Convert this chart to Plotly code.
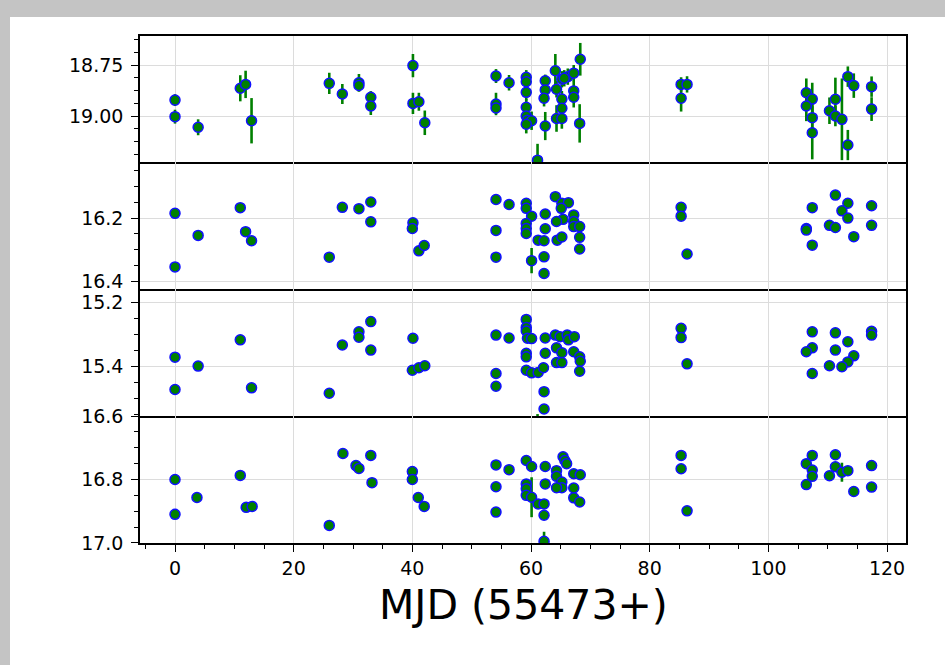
import plotly.graph_objects as go
from plotly.subplots import make_subplots

# ---------------- data ----------------
# Panel 1 (top)
x1 = [0, 0, 3.9, 11, 11.9, 12.9, 26, 28.2, 31, 31, 33, 33, 40.1, 40.1, 41.1, 42.1,
      54.1, 54.1, 54.1, 56.3, 59.2, 59.2, 59.2, 59.2, 59.2, 59.4, 60.1, 59.2, 61.1,
      62.4, 62.4, 62.2, 62.4, 64.1, 64.3, 64.3, 65.2, 65.2, 65.2, 65.2, 66.2, 67.2,
      65.6, 67.2, 67.2, 68.3, 68.2, 85.3, 86.3, 85.3, 106.4, 107.4, 106.4, 107.4,
      107.4, 110.3, 111.3, 111.3, 112.4, 113.4, 114.4, 113.4, 117.4, 117.4]
m1 = [18.922, 19.003, 19.055, 18.864, 18.845, 19.023, 18.84, 18.892, 18.837, 18.85,
      18.908, 18.951, 18.753, 18.938, 18.93, 19.033, 18.804, 18.941, 18.96, 18.837,
      18.81, 18.832, 18.884, 18.957, 19.0, 19.02, 19.023, 19.04, 19.216, 18.827,
      18.872, 18.913, 19.049, 18.778, 18.869, 19.012, 18.82, 18.917, 18.962, 19.012,
      18.807, 18.79, 18.815, 18.877, 18.908, 18.722, 19.036, 18.845, 18.845, 18.913,
      18.886, 18.917, 18.951, 19.008, 19.082, 18.974, 18.918, 19.0, 19.016, 18.807,
      18.851, 19.142, 18.856, 18.966]
e1 = [0.029, 0.034, 0.039, 0.064, 0.067, 0.111, 0.052, 0.049, 0.043, 0.03, 0.03,
      0.044, 0.057, 0.052, 0.044, 0.06, 0.034, 0.055, 0.03, 0.038, 0.035, 0.03, 0.04,
      0.04, 0.04, 0.04, 0.045, 0.045, 0.08, 0.03, 0.04, 0.04, 0.069, 0.082, 0.04,
      0.065, 0.04, 0.04, 0.04, 0.05, 0.04, 0.04, 0.04, 0.05, 0.05, 0.08, 0.094, 0.035,
      0.04, 0.065, 0.07, 0.08, 0.074, 0.08, 0.13, 0.065, 0.106, 0.05, 0.2, 0.05, 0.06,
      0.074, 0.05, 0.058]

# Panel 2
x2 = [0, 0, 3.9, 11, 11.9, 12.9, 26, 28.2, 31, 33, 33, 40.1, 40, 41.1, 42,
      54.1, 54.1, 54.1, 56.3, 59.2, 59.2, 60.1, 59.2, 59.2, 59.2, 61.2, 62.2, 60.1,
      62.2, 62.2, 62.4, 62.4, 64.1, 65.2, 66.3, 65.1, 65.4, 64.3, 64.4, 65.2, 67.2,
      67.2, 67.2, 68.2, 68.2, 68.2, 85.3, 85.3, 86.3, 107.4, 106.4, 106.4, 107.4,
      111.3, 113.4, 112.4, 113.4, 110.3, 111.3, 114.4, 117.4, 117.4]
m2 = [16.185, 16.355, 16.255, 16.167, 16.243, 16.272, 16.324, 16.166, 16.17, 16.149,
      16.212, 16.215, 16.233, 16.304, 16.287, 16.141, 16.239, 16.324, 16.157, 16.153,
      16.169, 16.194, 16.217, 16.233, 16.249, 16.27, 16.272, 16.335, 16.323, 16.376,
      16.187, 16.234, 16.132, 16.153, 16.151, 16.169, 16.204, 16.211, 16.27, 16.26,
      16.19, 16.211, 16.227, 16.227, 16.261, 16.298, 16.166, 16.194, 16.314, 16.167,
      16.233, 16.238, 16.286, 16.127, 16.153, 16.177, 16.2, 16.223, 16.23, 16.259,
      16.161, 16.223]
e2 = [0.008] * len(m2)
e2[27] = 0.04

# Panel 3
x3 = [0, 0, 3.9, 11, 12.9, 26, 28.2, 31, 31, 33, 33, 40.1, 40, 41.1, 42.1,
      54.1, 54.1, 54.1, 56.3, 59.2, 59.2, 59.2, 59.4, 60.1, 59.2, 59.2, 59.2, 60.1,
      61.2, 62.1, 62.2, 62.2, 62.4, 62.4, 64.1, 64.3, 65.2, 64.3, 65.2, 64.9, 66.1,
      66.3, 67.3, 67.2, 68.2, 68.3, 68.2, 85.3, 85.3, 86.3, 107.4, 107.4, 106.4, 107.4,
      111.3, 111.3, 110.3, 113.4, 114.4, 113.4, 112.4, 117.4, 117.4, 61.1]
m3 = [15.372, 15.473, 15.4, 15.318, 15.468, 15.485, 15.334, 15.293, 15.31, 15.261,
      15.35, 15.313, 15.413, 15.405, 15.399, 15.303, 15.423, 15.463, 15.312, 15.254,
      15.279, 15.29, 15.313, 15.314, 15.36, 15.371, 15.413, 15.421, 15.42, 15.405,
      15.48, 15.534, 15.312, 15.36, 15.303, 15.343, 15.358, 15.389, 15.389, 15.308,
      15.303, 15.318, 15.308, 15.355, 15.371, 15.385, 15.416, 15.282, 15.311, 15.393,
      15.293, 15.343, 15.355, 15.423, 15.296, 15.35, 15.399, 15.324, 15.368, 15.387,
      15.402, 15.291, 15.303, 15.6]
e3 = [0.008] * len(m3)
e3[-1] = 0.05

# Panel 4 (bottom)
x4 = [0, 0, 3.7, 11, 12, 13, 26, 28.3, 30.5, 31, 33, 33.2, 40, 40, 41, 42,
      54.1, 54.1, 54.1, 56.3, 59.2, 60.1, 59.2, 59.2, 59.2, 60.1, 61.2, 62.2, 62.2,
      62.2, 62.4, 62.4, 64.3, 64.3, 65.4, 65.7, 66, 65.2, 65.2, 64.3, 67.2, 68.3,
      67.2, 67.2, 68.2, 85.3, 85.3, 86.3, 107.4, 106.4, 107.4, 107.4, 106.4, 111.3,
      111.3, 110.3, 112.4, 113.4, 114.4, 117.4, 117.4]
m4 = [16.8, 16.91, 16.857, 16.787, 16.888, 16.885, 16.945, 16.718, 16.756, 16.765,
      16.724, 16.81, 16.775, 16.8, 16.857, 16.885, 16.754, 16.823, 16.903, 16.769,
      16.74, 16.759, 16.814, 16.829, 16.85, 16.856, 16.877, 16.877, 16.913, 16.995,
      16.759, 16.814, 16.772, 16.79, 16.728, 16.74, 16.75, 16.808, 16.826, 16.826,
      16.782, 16.785, 16.827, 16.858, 16.871, 16.724, 16.766, 16.899, 16.724, 16.75,
      16.77, 16.79, 16.816, 16.722, 16.76, 16.788, 16.777, 16.772, 16.838, 16.756,
      16.824]
e4 = [0.008] * len(m4)
e4[25] = 0.063
e4[29] = 0.03
e4[56] = 0.03

xs = [x1, x2, x3, x4]
ms = [m1, m2, m3, m4]
es = [e1, e2, e3, e4]

y_ranges = [[19.225, 18.608], [16.425, 16.022], [15.556, 15.159], [17.0005, 16.5995]]
y_dticks = [0.25, 0.2, 0.2, 0.2]
y_minor = [0.0625, 0.05, 0.05, 0.05]
y_fmt = [".2f", ".1f", ".1f", ".1f"]
x_ticks = [0, 20, 40, 60, 80, 100, 120]

# ---------------- figure ----------------
fig = make_subplots(rows=4, cols=1, shared_xaxes=True, vertical_spacing=0)

for i in range(4):
    fig.add_trace(go.Scatter(
        x=xs[i], y=ms[i], mode="markers",
        marker=dict(size=10, color="#008000", line=dict(color="#1010ff", width=1.5)),
        error_y=dict(type="data", array=es[i], color="#008000", thickness=2.6, width=0),
        showlegend=False), row=i + 1, col=1)

W, H = 945, 665
L, R, T, B = 140, 39, 36, 122
ph = H - T - B
pw = W - L - R

doms = [[0.7515, 1.0], [0.501, 0.7515], [0.2505, 0.501], [0.0, 0.2505]]

tickfont = dict(family="DejaVu Sans", size=19, color="black")
for i in range(4):
    fig.update_yaxes(
        range=y_ranges[i], domain=doms[i], dtick=y_dticks[i], tick0=0,
        tickformat=y_fmt[i], showgrid=True, gridcolor="#dcdcdc", gridwidth=1,
        showline=True, linecolor="black", linewidth=1.5, mirror=True,
        ticks="outside", ticklen=7, tickwidth=1.2, tickcolor="black",
        ticklabelstandoff=4,
        minor=dict(ticks="outside", dtick=y_minor[i], tick0=0, ticklen=4,
                   tickcolor="black", tickwidth=1, showgrid=False),
        tickfont=tickfont, zeroline=False,
        row=i + 1, col=1)
    fig.update_xaxes(
        range=[-5.9, 123.2], tickvals=x_ticks, showgrid=True, gridcolor="#dcdcdc",
        gridwidth=1, showline=True, linecolor="black", linewidth=1.5,
        mirror=(i == 0), zeroline=False, row=i + 1, col=1)

fig.update_xaxes(showticklabels=False, ticks="", row=1, col=1)
fig.update_xaxes(showticklabels=False, ticks="", row=2, col=1)
fig.update_xaxes(showticklabels=False, ticks="", row=3, col=1)
fig.update_xaxes(
    showticklabels=True, ticks="outside", ticklen=7, tickwidth=1.2, tickcolor="black",
    minor=dict(ticks="outside", dtick=5, tick0=0, ticklen=4, tickcolor="black",
               tickwidth=1, showgrid=False),
    tickfont=tickfont, row=4, col=1)

# window-like background: gray frame with white page
fig.add_shape(type="rect", xref="paper", yref="paper",
              x0=(10 - L) / pw, x1=(W + 5 - L) / pw,
              y0=(T + ph - (H + 5)) / ph, y1=(T + ph - 17) / ph,
              fillcolor="white", line=dict(width=0), layer="below")

fig.add_annotation(text="MJD (55473+)", xref="paper", yref="paper",
                   x=0.5, y=(T + ph - 605) / ph, xanchor="center", yanchor="middle",
                   showarrow=False,
                   font=dict(family="DejaVu Sans", size=41, color="black"))

fig.update_layout(
    width=W, height=H,
    margin=dict(l=L, r=R, t=T, b=B, pad=0),
    paper_bgcolor="#c4c4c4", plot_bgcolor="white",
    showlegend=False,
)

fig.write_html("out.html")
